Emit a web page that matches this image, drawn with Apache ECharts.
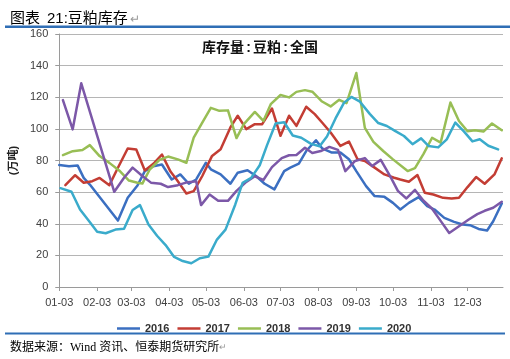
<!DOCTYPE html>
<html>
<head>
<meta charset="utf-8">
<script src="https://cdn.jsdelivr.net/npm/echarts@6/dist/echarts.min.js"></script>
<style>
html,body{margin:0;padding:0;background:#fff;}
#c{width:510px;height:359px;}
</style>
</head>
<body>
<div id="c"></div>
<script>
// ---- data (x = days after 01-03, y = 万吨) ----
const tickDays   = [0, 31, 59, 90, 120, 151, 181, 212, 243, 273, 304, 334];
const tickLabels = ['01-03','02-03','03-03','04-03','05-03','06-03','07-03','08-03','09-03','10-03','11-03','12-03'];
const seriesNames = ['2016','2017','2018','2019','2020'];

const d2016 = [0,8,15,20,25,48,56,64,70,77,84,92,99,106,112,120,124,132,140,146,154,161,168,176,184,189,196,202,210,215,223,230,237,243,251,258,266,273,279,286,294,301,307,315,323,330,336,343,350,355,362];
const v2016 = [77.1,76.4,76.9,69,64.8,42,56.4,64.2,73.3,76.4,77.5,68,71.2,65.3,68,78.6,74.4,71.2,65.3,72.3,73.8,70.2,65.3,61.7,73.3,75.5,78,86,92.8,87.7,85,85,80.8,73.3,63.8,57.5,57,53.2,49,53.2,56.8,51.1,49,43.7,41.2,39.5,39.1,36.7,35.7,41.6,52.8];

const d2017 = [5,13,20,27,33,41,48,56,63,70,77,84,91,96,104,110,117,125,132,140,146,153,160,166,174,181,188,194,202,209,215,222,230,237,244,250,258,266,274,279,286,293,299,306,314,321,327,334,341,348,356,362];
const v2017 = [64.4,70.7,65.9,66.9,69,64.4,75.4,87.6,87,73.7,77.9,83.8,73,68,59.1,60.6,70.2,82.9,87.1,100.9,108.3,99.8,103,103,112.9,95.6,108.3,101.9,114,109.3,104,97.7,89.2,92,80.8,79.7,75.5,71.2,69.1,68,66.6,70.8,59.6,58.5,56.4,56,56.4,63.2,69.5,65.3,71.2,81.4];

const d2018 = [3,11,19,25,33,41,49,57,64,68,74,82,89,97,104,110,117,124,131,138,145,151,160,167,173,181,188,194,201,207,215,222,229,235,243,250,257,265,273,285,291,298,305,312,320,327,334,340,347,354,362];
const v2018 = [83.4,85.9,86.6,89.7,82.8,78.5,73.7,67.3,65.9,65.4,74.3,80.4,82.5,80.7,78.6,94.5,104,113.3,111.4,111.7,94.2,103,110.7,105,115.6,121.4,119.9,123.4,124.5,123.5,117.3,114.2,118.4,116.3,135.3,100.6,91.8,86,80.7,73.3,75.2,84.2,94.4,91.3,116.7,105,98.5,99.1,98.3,103.4,99.1];

const d2019 = [3,11,18,45,53,60,68,75,83,89,97,105,112,116,123,130,138,145,153,160,167,174,182,188,194,201,207,214,221,228,234,242,250,256,263,271,277,284,291,298,305,312,319,327,335,342,348,355,362];
const v2019 = [118.2,99.7,128.8,60.2,69.1,75.5,70.2,66,65.3,63.2,64.4,66.3,66.8,51.8,58.5,54.5,54.5,60.8,66.5,70,67.7,75.8,81.5,83.3,83.5,88.1,84.8,86,88.6,86.7,73.3,79.7,81.5,76.5,80.4,69.6,60.8,56,61.4,54.6,49.5,41.8,34.2,38.4,42.7,46.1,48.2,50.1,53.9];

const d2020 = [1,10,17,24,31,38,46,53,60,66,73,80,87,94,101,108,115,122,129,136,144,150,157,164,170,177,184,191,198,206,213,219,226,233,239,246,254,261,268,275,282,289,296,302,310,317,324,331,338,344,351,359];
const v2020 = [62.5,60.2,49,42,35,34,36.3,36.8,48.7,51.8,39.5,32.4,26.5,19,16.4,15,18.2,19.2,30,36.3,52.2,65.9,69,77,89.7,103.4,104.2,95.8,94.4,90.5,89,95.2,106.6,116.6,120.2,117.2,109.5,103.7,101.8,98.6,95.5,90.3,94,89.2,88.3,93.4,104,98.4,92.1,93.4,89.3,87];

const seriesDays = [d2016, d2017, d2018, d2019, d2020];
const seriesVals = [v2016, v2017, v2018, v2019, v2020];
const colors = ['#3B6FC1','#C33D34','#98BE55','#7C58A8','#3AABCB'];

const chart = echarts.init(document.getElementById('c'), null, {renderer:'canvas'});
const FONT = "'Liberation Sans','Noto Sans CJK SC',sans-serif";

const series = seriesNames.map((n, i) => ({
  name: n,
  type: 'line',
  symbol: 'none',
  smooth: false,
  data: seriesDays[i].map((d, j) => [d, seriesVals[i][j]]),
  lineStyle: {width: 2.5, color: colors[i], cap: 'round', join: 'round'},
  itemStyle: {color: colors[i]},
  z: 2
}));

chart.setOption({
  animation: false,
  backgroundColor: '#fff',
  textStyle: {fontFamily: FONT},
  title: [{
    text: '图表{s| }21:豆粕库存{a|↵}',
    left: 5, top: 6,
    textStyle: {fontSize: 15, fontWeight: 'normal', color: '#000', fontFamily: FONT,
      rich: {s: {width: 7, fontSize: 15}, a: {fontSize: 12, color: '#999', fontFamily: FONT, padding: [3, 0, 0, 2]}}}
  }, {
    text: '库存量{c|:}豆粕{c|:}全国',
    left: 197, top: 36,
    textStyle: {fontSize: 14, fontWeight: 'bold', color: '#111', fontFamily: FONT,
      rich: {c: {width: 9, align: 'center', fontSize: 14, fontWeight: 'bold', color: '#111'}}}
  }, {
    text: '数据来源：Wind 资讯、恒泰期货研究所{a|↵}',
    left: 5, top: 337,
    textStyle: {fontSize: 12, fontWeight: 'normal', color: '#000', fontFamily: "'Liberation Serif','Noto Sans CJK SC',serif",
      rich: {a: {fontSize: 9, color: '#999'}}}
  }],
  legend: {
    data: seriesNames,
    left: 112, top: 318,
    itemWidth: 23, itemHeight: 12, itemGap: 8,
    icon: 'path://M0,0 L23,0 L23,2.5 L0,2.5 Z',
    textStyle: {fontSize: 11, fontWeight: 'bold', color: '#333', fontFamily: FONT}
  },
  grid: {left: 49, right: 7, top: 34, bottom: 72, containLabel: false},
  xAxis: {
    type: 'value', min: 0, max: 363,
    axisLine: {show: true, onZero: false, lineStyle: {color: '#9a9a9a', width: 1}},
    axisTick: {show: true, customValues: tickDays, length: 4, lineStyle: {color: '#9a9a9a'}},
    axisLabel: {customValues: tickDays, formatter: v => tickLabels[tickDays.indexOf(v)] || '', margin: 10,
      fontSize: 11, color: '#404040', fontFamily: FONT},
    splitLine: {show: false}
  },
  yAxis: {
    type: 'value', min: 0, max: 160, interval: 20,
    name: '(万吨)', nameLocation: 'middle', nameRotate: 90, nameGap: 34,
    nameTextStyle: {fontSize: 11, fontWeight: 'bold', color: '#222', fontFamily: FONT},
    axisLine: {show: true, lineStyle: {color: '#9a9a9a', width: 1}},
    axisTick: {show: true, length: 4, lineStyle: {color: '#9a9a9a'}},
    axisLabel: {margin: 11, fontSize: 11, color: '#404040', fontFamily: FONT},
    splitLine: {show: true, lineStyle: {color: '#b5b5b5', width: 1}}
  },
  graphic: [
    {type: 'rect', shape: {x: 5, y: 25.5, width: 505, height: 2.5}, style: {fill: '#2F6EB5'}, silent: true},
    {type: 'rect', shape: {x: 5, y: 332.5, width: 500, height: 2}, style: {fill: '#2F6EB5'}, silent: true}
  ],
  series: series
});
</script>
</body>
</html>
